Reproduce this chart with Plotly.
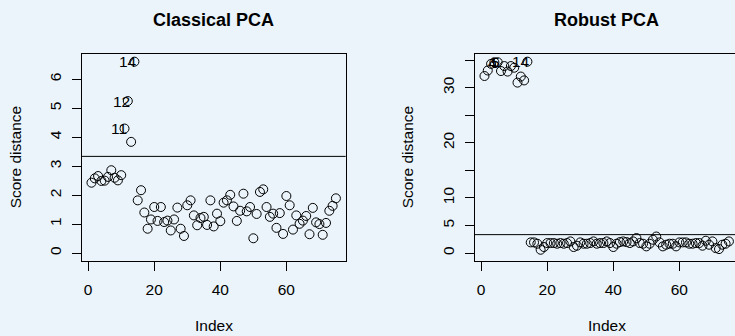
import plotly.graph_objects as go

index = list(range(1, 76))
classical = [2.43, 2.58, 2.66, 2.49, 2.50, 2.63, 2.86, 2.60, 2.51, 2.69,
             4.30, 5.25, 3.84, 6.61,
             1.82, 2.17, 1.40, 0.84, 1.16, 1.59, 1.11, 1.59, 1.07, 1.12,
             0.78, 1.16, 1.57, 0.84, 0.59, 1.65, 1.82, 1.30, 0.96, 1.21,
             1.25, 0.97, 1.82, 0.92, 1.36, 1.10, 1.74, 1.82, 2.01, 1.61,
             1.11, 1.46, 2.05, 1.44, 1.59, 0.51, 1.35, 2.11, 2.20, 1.59,
             1.25, 1.36, 0.87, 1.38, 0.66, 1.97, 1.65, 0.81, 1.30, 1.01,
             1.12, 1.28, 0.65, 1.56, 1.06, 1.00, 0.63, 1.04, 1.46, 1.63,
             1.89]
robust = [32.1, 33.1, 34.3, 34.6, 34.6, 33.0, 33.9, 32.9, 33.9, 33.6,
          30.9, 32.0, 31.3, 34.7,
          1.93, 1.93, 1.69, 0.60, 1.09, 1.81, 1.81, 1.81, 1.69, 1.81,
          1.69, 1.81, 2.11, 1.09, 1.33, 1.93, 1.69, 1.69, 1.81, 2.11,
          1.69, 1.81, 1.81, 2.11, 1.81, 1.09, 1.69, 1.99, 2.11, 1.99,
          1.81, 2.11, 2.72, 1.81, 1.69, 1.21, 1.69, 2.41, 3.00, 1.93,
          1.21, 1.51, 1.69, 1.69, 1.21, 1.93, 1.93, 1.93, 1.69, 1.69,
          1.81, 1.81, 1.33, 2.23, 1.51, 2.11, 0.90, 0.72, 1.51, 1.69,
          2.11]
cutoff = 3.338
classical_labels = [11, 12, 14]
robust_labels = [4, 5, 14]
x_ticks = [0, 20, 40, 60]
classical_yticks = [0, 1, 2, 3, 4, 5, 6]
robust_yticks = [0, 5, 10, 15, 20, 25, 30, 35]
robust_yticktext = ["0", "5", "10", "", "20", "", "30", ""]

W, H = 735, 336
BG = "#EAF4FA"
FONT = "Liberation Sans, Arial, sans-serif"
FS = 15.5

fig = go.Figure()
marker = dict(symbol="circle-open", size=9, color="black", line=dict(width=1, color="black"))
fig.add_trace(go.Scatter(x=index, y=classical, mode="markers", marker=marker,
                         xaxis="x", yaxis="y", showlegend=False, hoverinfo="skip"))
fig.add_trace(go.Scatter(x=index, y=robust, mode="markers", marker=marker,
                         xaxis="x2", yaxis="y2", showlegend=False, hoverinfo="skip"))

# pixel geometry
L1, R1 = 81.7, 345.7
L2 = 474.7
TOP, BOT = 54.0, 260.7
ppu = (R1 - L1) / (77.96 + 1.96)
x2max = -1.96 + (W - L2) / ppu

def py(p):
    return 1 - p / H

axis_common = dict(showline=True, linecolor="black", linewidth=1, ticks="outside",
                   ticklen=9, tickwidth=1, tickcolor="black", showgrid=False, zeroline=False,
                   tickfont=dict(family=FONT, size=FS, color="black"))

cmax = max(classical)
rmax = max(robust)
fig.update_layout(
    width=W, height=H, margin=dict(l=0, r=0, t=0, b=0),
    paper_bgcolor=BG, plot_bgcolor=BG,
    xaxis=dict(domain=[L1 / W, R1 / W], range=[-1.96, 77.96], tickvals=x_ticks,
               mirror=True, anchor="y", ticklabelstandoff=6, **axis_common),
    yaxis=dict(domain=[py(BOT), py(TOP)], range=[-0.04 * cmax, 1.04 * cmax],
               tickvals=classical_yticks, tickangle=-90, mirror=True, anchor="x",
               ticklabelstandoff=5, **axis_common),
    xaxis2=dict(domain=[L2 / W, 1.0], range=[-1.96, x2max], tickvals=x_ticks,
                mirror=True, anchor="y2", ticklabelstandoff=6, **axis_common),
    yaxis2=dict(domain=[py(BOT), py(TOP)], range=[-0.04 * rmax, 1.04 * rmax],
                tickvals=robust_yticks, ticktext=robust_yticktext, tickangle=-90,
                anchor="x2", ticklabelstandoff=5, **axis_common),
)

fig.add_shape(type="line", xref="x domain", yref="y", x0=0, x1=1, y0=cutoff, y1=cutoff,
              line=dict(color="black", width=1))
fig.add_shape(type="line", xref="x2 domain", yref="y2", x0=0, x1=1, y0=cutoff, y1=cutoff,
              line=dict(color="black", width=1))

for i in classical_labels:
    fig.add_annotation(x=i, y=classical[i - 1], xref="x", yref="y", text=str(i),
                       showarrow=False, xanchor="right", yanchor="middle", xshift=4.5,
                       font=dict(family=FONT, size=FS, color="black"))
for i in robust_labels:
    fig.add_annotation(x=i, y=robust[i - 1], xref="x2", yref="y2", text=str(i),
                       showarrow=False, xanchor="right", yanchor="middle", xshift=4.5,
                       font=dict(family=FONT, size=FS, color="black"))

def ann(text, x, y, size=FS, bold=False, angle=0):
    fig.add_annotation(x=x / W, y=py(y), xref="paper", yref="paper",
                       text=f"<b>{text}</b>" if bold else text, showarrow=False,
                       xanchor="center", yanchor="middle", textangle=angle,
                       font=dict(family=FONT, size=size, color="black"))

ann("Classical PCA", (L1 + R1) / 2, 20, size=18, bold=True)
ann("Robust PCA", L2 + (R1 - L1) / 2, 20, size=18, bold=True)
ann("Index", (L1 + R1) / 2, 325)
ann("Index", L2 + (R1 - L1) / 2, 325)
ann("Score distance", 15, (TOP + BOT) / 2, angle=-90)
ann("Score distance", 407, (TOP + BOT) / 2, angle=-90)

fig.write_html("out.html")
